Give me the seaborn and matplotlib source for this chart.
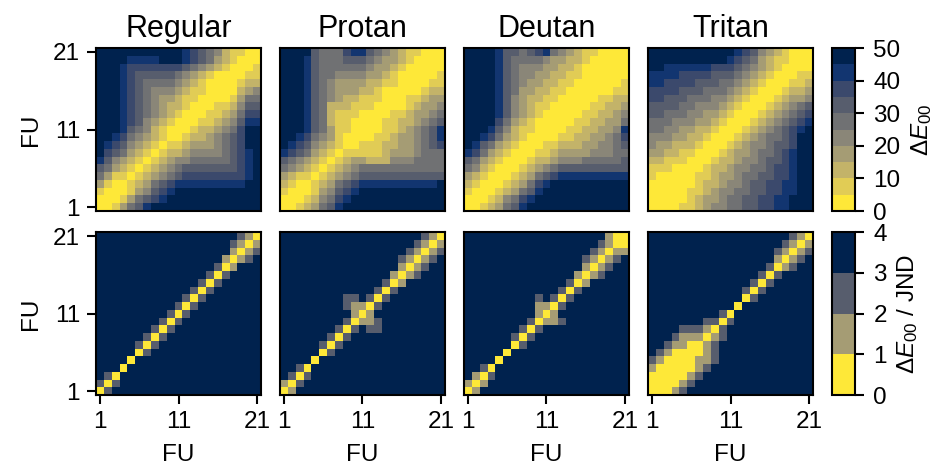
import numpy as np
import matplotlib.pyplot as plt
import seaborn as sns

plt.rcParams['font.family'] = ['Liberation Sans', 'DejaVu Sans']
plt.rcParams['mathtext.fontset'] = 'custom'
plt.rcParams['mathtext.rm'] = 'Liberation Sans'
plt.rcParams['mathtext.it'] = 'Liberation Sans:italic'

titles = ["Regular", "Protan", "Deutan", "Tritan"]
fu_ticks = [1, 11, 21]
de_ticks = [0, 10, 20, 30, 40, 50]
jnd_ticks = [0, 1, 2, 3, 4]

# read-off bin levels, one string per FU row (21 at top -> 1 at bottom), columns FU 1..21
# top row: level k means dE00 in [5k, 5k+5)
de_regular = [
    "999999999998765421100", "999988889998765321000", "999877777776543210001",
    "999876666654321000011", "999876555543210000122", "999876544432110000234",
    "999876543321100001355", "999876543221000112466", "999876543210001123577",
    "999876432100011234688", "999865421000122345799", "998754321001223456799",
    "987643210112333456799", "976532101223444456789", "864321012344555556789",
    "653210123456666666789", "531101234567777777789", "310012356788888888899",
    "100013467899999999999", "000135678999999999999", "001356899999999999999",
]
de_protan = [
    "999965557886543211000", "999865556665433210000", "999865555554332100000",
    "999865544443321000001", "999865433332211000011", "999865433322100000122",
    "999865432211100011233", "999865222111000012334", "999865211100001123345",
    "999865211000011223456", "999865311000011234568", "998754310000112334568",
    "987643210011122334567", "876532101111123334555", "654321012332224445555",
    "543210123455555555555", "321101234566666666666", "210012356788888888889",
    "100013467899999999999", "000124578999999999999", "001235689999999999999",
]
de_deutan = [
    "999986656785432110000", "999986555543322100000", "999986544433221000000",
    "999986544332211000000", "999986543322110000001", "999986533221100000011",
    "999986432211000001122", "999986432110000011223", "999986432100000112234",
    "999975321000001122335", "999864211000011223348", "998753210000112233457",
    "986532100011222334456", "875321000112333344455", "653210001223444555556",
    "542100012345666666666", "321000123567888888888", "210001235789999999999",
    "100012356899999999999", "000124578999999999999", "001235689999999999999",
]
de_tritan = [
    "999999999998764321000", "999999999987653211000", "998888887776543210000",
    "888877776665432100011", "887777666554321000112", "777766655543210001223",
    "776665554432100012334", "666655444321000123456", "665554433210001234567",
    "555444332100012345678", "554433221000123456789", "444332210001234556799",
    "433222100012344566799", "332211000123345567899", "221110001223445667899",
    "111000012234455677899", "100000112334556677899", "000000122344566778899",
    "000001123445566778899", "000001233455667788999", "000011234455667788999",
]

# bottom row: level k means dE00/JND in [k, k+1)
jnd_regular = [
    "333333333333333333210", "333333333333333332101", "333333333333333331012",
    "333333333333333310123", "333333333333333201333", "333333333333332023333",
    "333333333333320233333", "333333333333202333333", "333333333332023333333",
    "333333333320233333333", "333333333202333333333", "333333332023333333333",
    "333333320233333333333", "333333202333333333333", "333332023333333333333",
    "333330233333333333333", "333303333333333333333", "333033333333333333333",
    "320333333333333333333", "202333333333333333333", "023333333333333333333",
]
jnd_protan = [
    "333333333333333333210", "333333333333333332101", "333333333333333321012",
    "333333333333333210123", "333333333333333101233", "333333333333331012333",
    "333333333333320133333", "333333333333202333333", "333333332232023333333",
    "333333332110233333333", "333333333101333333333", "333333332011233333333",
    "333333320232233333333", "333333202333333333333", "333332023333333333333",
    "333330233333333333333", "333303333333333333333", "332033333333333333333",
    "320233333333333333333", "102333333333333333333", "013333333333333333333",
]
jnd_deutan = [
    "333333333333333333100", "333333333333333332100", "333333333333333321011",
    "333333333333333210123", "333333333333333101233", "333333333333331012333",
    "333333333333320133333", "333333333333202333333", "333333333232023333333",
    "333333333110233333333", "333333333101333333333", "333333332011233333333",
    "333333320233333333333", "333333202333333333333", "333333023333333333333",
    "333330333333333333333", "333303333333333333333", "332033333333333333333",
    "310233333333333333333", "101333333333333333333", "013333333333333333333",
]
jnd_tritan = [
    "333333333333333333210", "333333333333333332101", "333333333333333321012",
    "333333333333333310123", "333333333333333201233", "333333333333332023333",
    "333333333333320233333", "333333333333202333333", "333333333333023333333",
    "333333333330333333333", "333333333203333333333", "333333322023333333333",
    "333322210233333333333", "333211101233333333333", "332110012333333333333",
    "321000012333333333333", "210000112333333333333", "100000123333333333333",
    "000001233333333333333", "000012333333333333333", "000123333333333333333",
]


def to_matrix(rows, step):
    assert all(len(r) == 21 for r in rows) and len(rows) == 21
    lv = np.array([[int(ch) for ch in r] for r in rows], dtype=float)
    return lv * step + step / 2


top = [to_matrix(m, 5) for m in (de_regular, de_protan, de_deutan, de_tritan)]
bottom = [to_matrix(m, 1) for m in (jnd_regular, jnd_protan, jnd_deutan, jnd_tritan)]

fig = plt.figure(figsize=(9.43, 4.71), dpi=100)
lefts = [0.1018, 0.2969, 0.4920, 0.6872]
w, h = 0.175, 0.346
row_bottoms = [0.552, 0.161]

cmap_top = plt.get_cmap('cividis_r', 10)
cmap_bot = plt.get_cmap('cividis_r', 4)

pos = [0.5, 10.5, 20.5]
rows_cfg = [(top, 50, cmap_top, de_ticks, r'$\Delta E_{00}$'),
            (bottom, 4, cmap_bot, jnd_ticks, r'$\Delta E_{00}$ / JND')]

for r, (mats, vmax, cmap, cticks, clabel) in enumerate(rows_cfg):
    for c in range(4):
        ax = fig.add_axes([lefts[c], row_bottoms[r], w, h])
        sns.heatmap(mats[c], ax=ax, cmap=cmap, vmin=0, vmax=vmax, cbar=False,
                    xticklabels=False, yticklabels=False)
        for s in ax.spines.values():
            s.set_visible(True)
            s.set_linewidth(1.5)
            s.set_color('black')
        ax.set_xticks(pos)
        ax.set_xticklabels([str(t) for t in fu_ticks])
        ax.set_yticks(pos)
        ax.set_yticklabels([str(t) for t in fu_ticks[::-1]], rotation=0)
        ax.tick_params(length=6.5, width=1.5, labelsize=17.5, pad=5)
        if c == 0:
            ax.set_ylabel('FU', fontsize=17.5, labelpad=8)
        else:
            ax.tick_params(left=False, labelleft=False)
        if r == 0:
            ax.set_title(titles[c], fontsize=22, pad=8)
            ax.tick_params(bottom=False, labelbottom=False)
        else:
            ax.set_xlabel('FU', fontsize=17.5, labelpad=8)
    cax = fig.add_axes([0.882, row_bottoms[r], 0.0244, h])
    cb = fig.colorbar(ax.collections[0], cax=cax, ticks=cticks)
    cb.outline.set_linewidth(1.5)
    cb.outline.set_edgecolor('black')
    cax.tick_params(length=6.5, width=1.5, labelsize=17.5, pad=7)
    cb.set_label(clabel, fontsize=17.5, labelpad=6)

fig.savefig('out.png', dpi=100)
